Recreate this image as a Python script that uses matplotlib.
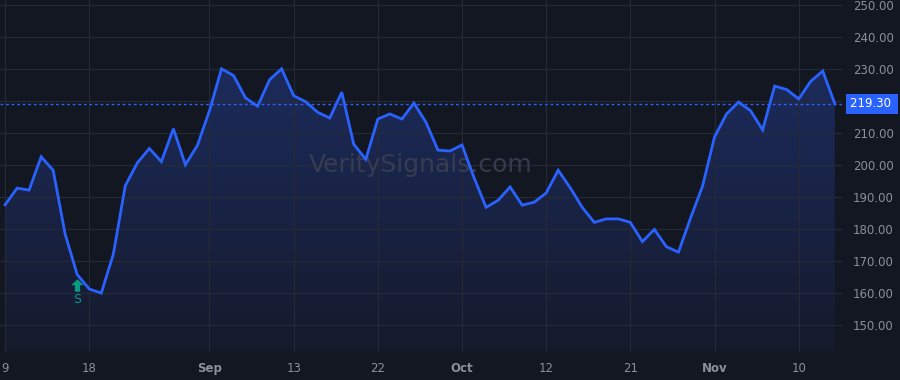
import numpy as np
import matplotlib
matplotlib.use('Agg')
import matplotlib.pyplot as plt
from matplotlib.colors import LinearSegmentedColormap
from matplotlib.path import Path

# closing prices, one per bar (Aug 9 .. mid Nov)
prices = [187.7, 192.9, 192.3, 202.7, 198.5, 178.5, 165.9, 161.4, 160.1, 172.2,
          193.7, 200.8, 205.3, 201.2, 211.5, 200.2, 206.3, 217.1, 230.2, 228.1,
          221.1, 218.5, 226.8, 230.2, 221.8, 219.9, 216.6, 214.8, 222.9, 206.6,
          201.9, 214.5, 216.1, 214.5, 219.5, 213.5, 204.8, 204.5, 206.4, 196.2,
          186.9, 189.1, 193.3, 187.6, 188.5, 191.4, 198.5, 193.0, 186.9, 182.2,
          183.3, 183.3, 182.2, 176.2, 180.0, 174.6, 172.9, 183.5, 193.5, 208.9,
          216.1, 219.8, 217.1, 211.1, 224.8, 223.7, 220.8, 226.3, 229.5, 219.3]
last_price = 219.30
tick_idx = [0, 7, 17, 24, 31, 38, 45, 52, 59, 66]
tick_labels = ['9', '18', 'Sep', '13', '22', 'Oct', '12', '21', 'Nov', '10']
month_labels = ['Sep', 'Oct', 'Nov']
y_ticks = [150, 160, 170, 180, 190, 200, 210, 220, 230, 240, 250]
signal_idx = 6
signal_text = 'S'

bg = '#131722'
blue = '#2962ff'
grid_c = '#252a36'
text_c = '#8b8f9a'
green = '#089981'

fig = plt.figure(figsize=(9, 3.8), dpi=100, facecolor=bg)
ax = fig.add_axes([0, 28 / 380, 842 / 900, 352 / 380], facecolor=bg)

x = np.arange(len(prices))
ax.set_xlim(-0.42, 69.6)
ax.set_ylim(141.7, 251.7)

# gradient fill under the line
fill = ax.fill_between(x, prices, 130, color='none', lw=0)
cmap = LinearSegmentedColormap.from_list('g', ['#151a2b', '#1c2b5c'])
grad = np.linspace(0, 1, 256).reshape(-1, 1)
im = ax.imshow(grad, cmap=cmap, aspect='auto', origin='lower',
               extent=[x[0], x[-1], 141.7, max(prices)], zorder=1)
im.set_clip_path(fill.get_paths()[0], transform=ax.transData)

ax.plot(x, prices, color=blue, lw=2, zorder=3, solid_joinstyle='miter')
ax.axhline(last_price, color=blue, lw=1, ls=(0, (2, 2)), zorder=2)

# watermark
ax.text(0.5, 0.53, 'VeritySignals.com', transform=ax.transAxes, ha='center', va='center',
        fontsize=18, color='#3a3f52', alpha=0.9, zorder=2)

# signal marker: up arrow + letter
arrow = Path([(-1, 0.05), (0, 1), (1, 0.05), (0.42, 0.05), (0.42, -1), (-0.42, -1),
              (-0.42, 0.05), (-1, 0.05)], closed=True)
ax.plot([signal_idx], [prices[signal_idx] - 3.2], marker=arrow, ms=9, color=green,
        mew=0, ls='none', zorder=4)
ax.text(signal_idx, prices[signal_idx] - 7.9, signal_text, color=green, ha='center', va='center',
        fontsize=9, zorder=4)

ax.set_yticks(y_ticks)
ax.set_yticklabels(['' if v == 220 else '%.2f' % v for v in y_ticks])
ax.yaxis.tick_right()
ax.set_xticks(tick_idx)
ax.set_xticklabels(tick_labels)
for lbl in ax.get_xticklabels():
    lbl.set_va('center_baseline')
    if lbl.get_text() in month_labels:
        lbl.set_fontweight('bold')
ax.tick_params(axis='both', length=0, colors=text_c, labelsize=8.5)
ax.tick_params(axis='y', pad=8)
ax.tick_params(axis='x', pad=11)
ax.grid(True, color=grid_c, lw=0.8, zorder=0)
for s in ax.spines.values():
    s.set_visible(False)

# last price label on the axis
ax.text(1.0 + 8 / 842, (last_price - 141.7) / 110.0, '%.2f ' % last_price, transform=ax.transAxes,
        ha='left', va='center', fontsize=8.5, color='white',
        bbox=dict(boxstyle='square,pad=0.3', fc=blue, ec='none'), zorder=5)

fig.savefig('out.png', dpi=100, facecolor=bg)
